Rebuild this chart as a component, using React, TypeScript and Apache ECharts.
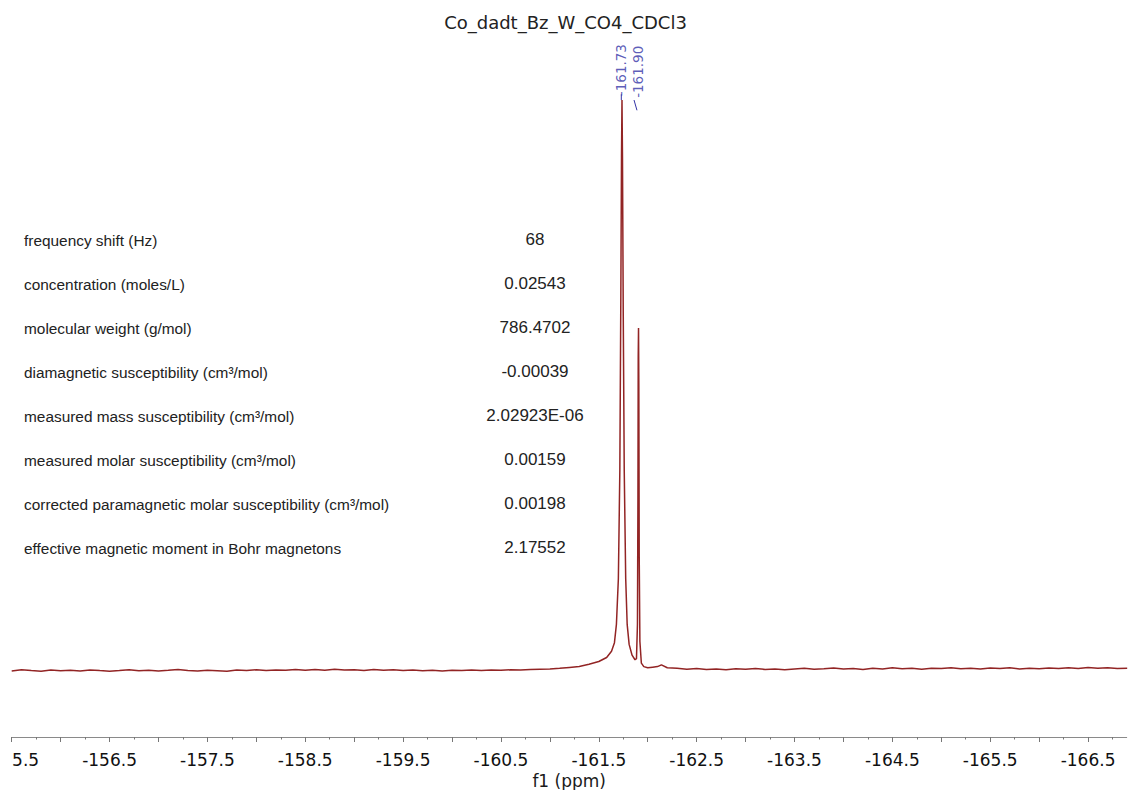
import React, { useEffect, useRef } from "react";
import * as echarts from "echarts";

const chartTitle = "Co_dadt_Bz_W_CO4_CDCl3";
const axisName = "f1 (ppm)";

// ppm range shown (reversed NMR axis)
const ppmLeft = -155.5;
const ppmRight = -166.895;

const majorTicks = [-155.5, -156.0, -156.5, -157.0, -157.5, -158.0, -158.5, -159.0, -159.5, -160.0, -160.5, -161.0, -161.5, -162.0, -162.5, -163.0, -163.5, -164.0, -164.5, -165.0, -165.5, -166.0, -166.5];
const minorTicks = [-155.75, -156.25, -156.75, -157.25, -157.75, -158.25, -158.75, -159.25, -159.75, -160.25, -160.75, -161.25, -161.75, -162.25, -162.75, -163.25, -163.75, -164.25, -164.75, -165.25, -165.75, -166.25, -166.75];
const tickLabels = [-155.5, -156.5, -157.5, -158.5, -159.5, -160.5, -161.5, -162.5, -163.5, -164.5, -165.5, -166.5];

// spectrum: [ppm, intensity]
const baselineLeft = [
  [-155.5, -0.15], [-155.6, 0.05], [-155.7, -0.1], [-155.8, -0.2], [-155.9, 0.0],
  [-156.0, -0.12], [-156.1, -0.05], [-156.2, -0.18], [-156.3, 0.02], [-156.4, -0.1],
  [-156.5, -0.2], [-156.6, -0.08], [-156.7, 0.05], [-156.8, -0.12], [-156.9, -0.02],
  [-157.0, -0.15], [-157.1, -0.05], [-157.2, 0.08], [-157.3, -0.1], [-157.4, -0.18],
  [-157.5, -0.05], [-157.6, -0.12], [-157.7, -0.22], [-157.8, 0.0], [-157.9, -0.08],
  [-158.0, 0.05], [-158.1, -0.1], [-158.2, 0.02], [-158.3, -0.05], [-158.4, 0.1],
  [-158.5, -0.02], [-158.6, 0.08], [-158.7, -0.06], [-158.8, 0.12], [-158.9, 0.0],
  [-159.0, 0.05], [-159.1, -0.08], [-159.2, 0.1], [-159.3, -0.02], [-159.4, 0.05],
  [-159.5, -0.1], [-159.6, 0.0], [-159.7, -0.12], [-159.8, -0.02], [-159.9, -0.15],
  [-160.0, -0.05], [-160.1, -0.1], [-160.2, 0.02], [-160.3, -0.08], [-160.4, 0.0],
  [-160.5, -0.05], [-160.6, 0.05], [-160.7, 0.0], [-160.8, 0.1], [-160.9, 0.15],
  [-161.0, 0.2], [-161.1, 0.3], [-161.2, 0.45],
];

const peakRegion = [
  [-161.3, 0.6], [-161.4, 1.0], [-161.5, 1.5], [-161.58, 2.2], [-161.63, 3.3],
  [-161.66, 4.8], [-161.68, 8.0], [-161.7, 16], [-161.715, 35], [-161.725, 65],
  [-161.732, 90], [-161.737, 100], [-161.742, 90], [-161.75, 62], [-161.76, 35],
  [-161.775, 16], [-161.79, 8], [-161.81, 4.5], [-161.84, 2.6], [-161.87, 1.8],
  [-161.885, 2.0], [-161.895, 8], [-161.9, 30], [-161.903, 55], [-161.906, 60],
  [-161.909, 50], [-161.913, 20], [-161.92, 5], [-161.935, 1.2], [-161.96, 0.6],
  [-162.0, 0.4], [-162.05, 0.5], [-162.1, 0.6], [-162.14, 0.9], [-162.2, 0.4],
];

const baselineRight = [
  [-162.3, 0.3], [-162.4, 0.15], [-162.5, 0.25], [-162.6, 0.1], [-162.7, 0.2],
  [-162.8, 0.05], [-162.9, 0.22], [-163.0, 0.12], [-163.1, 0.28], [-163.2, 0.1],
  [-163.3, 0.18], [-163.4, 0.05], [-163.5, 0.2], [-163.6, 0.3], [-163.7, 0.12],
  [-163.8, 0.22], [-163.9, 0.35], [-164.0, 0.18], [-164.1, 0.25], [-164.2, 0.1],
  [-164.3, 0.3], [-164.4, 0.2], [-164.5, 0.38], [-164.6, 0.22], [-164.7, 0.3],
  [-164.8, 0.15], [-164.9, 0.32], [-165.0, 0.25], [-165.1, 0.4], [-165.2, 0.22],
  [-165.3, 0.3], [-165.4, 0.18], [-165.5, 0.35], [-165.6, 0.25], [-165.7, 0.4],
  [-165.8, 0.2], [-165.9, 0.3], [-166.0, 0.22], [-166.1, 0.35], [-166.2, 0.28],
  [-166.3, 0.4], [-166.4, 0.25], [-166.5, 0.45], [-166.6, 0.3], [-166.7, 0.38],
  [-166.8, 0.28], [-166.9, 0.32],
];

const peakPicks = [-161.73, -161.9];
const peakLabelY = [105.6, 105.3];

const tableLabels = [
  "frequency shift (Hz)",
  "concentration (moles/L)",
  "molecular weight (g/mol)",
  "diamagnetic susceptibility (cm³/mol)",
  "measured mass susceptibility (cm³/mol)",
  "measured molar susceptibility (cm³/mol)",
  "corrected paramagnetic molar susceptibility (cm³/mol)",
  "effective magnetic moment in Bohr magnetons",
];
const tableValues = ["68", "0.02543", "786.4702", "-0.00039", "2.02923E-06", "0.00159", "0.00198", "2.17552"];

export default function App() {
  const ref = useRef<HTMLDivElement>(null);

  useEffect(() => {
    if (!ref.current) return;
    const chart = echarts.init(ref.current, null, { renderer: "svg" });
    const spectrum = [...baselineLeft, ...peakRegion, ...baselineRight];
    const rowTop = 240;
    const rowGap = 44.0;

    const graphics: any[] = [];
    tableLabels.forEach((t, i) => {
      graphics.push({
        type: "text",
        x: 24,
        y: rowTop + i * rowGap,
        z: 10,
        style: { text: t, fill: "#222", font: '15.4px "Liberation Sans", Arial, sans-serif', align: "left", verticalAlign: "middle" },
      });
      graphics.push({
        type: "text",
        x: 535,
        y: rowTop - 1 + i * rowGap,
        z: 10,
        style: { text: tableValues[i], fill: "#222", font: '17px "Liberation Sans", Arial, sans-serif', align: "center", verticalAlign: "middle" },
      });
    });
    graphics.push({ type: "rect", shape: { x: 0, y: 742, width: 11.5, height: 30 }, style: { fill: "#fff" }, z: 100 });

    chart.setOption({
      animation: false,
      backgroundColor: "#ffffff",
      title: {
        text: chartTitle,
        left: "center",
        top: 8,
        textStyle: { fontFamily: "DejaVu Sans", fontSize: 18, fontWeight: "normal", color: "#222" },
      },
      grid: { left: 11.7, right: 4.3, top: 42, bottom: 53, containLabel: false, outerBoundsMode: "none" },
      xAxis: [
        {
          type: "value",
          inverse: true,
          min: ppmRight,
          max: ppmLeft,
          name: axisName,
          nameLocation: "middle",
          nameGap: 34,
          nameTextStyle: { fontFamily: "DejaVu Sans", fontSize: 17, color: "#1a1a1a", verticalAlign: "top" },
          axisLine: { show: true, onZero: false, lineStyle: { color: "#8a8a8a", width: 1 } },
          axisTick: { show: true, customValues: majorTicks, length: 5, lineStyle: { color: "#777" } },
          axisLabel: {
            show: true,
            customValues: tickLabels,
            margin: 14,
            fontFamily: "DejaVu Sans",
            fontSize: 17,
            color: "#111",
            formatter: (v: number) => v.toFixed(1),
          },
          splitLine: { show: false },
        },
        {
          type: "value",
          inverse: true,
          min: ppmRight,
          max: ppmLeft,
          position: "bottom",
          axisLine: { show: false, onZero: false },
          axisTick: { show: true, customValues: minorTicks, length: 2.5, lineStyle: { color: "#777" } },
          axisLabel: { show: false },
          splitLine: { show: false },
        },
      ],
      yAxis: {
        type: "value",
        min: -11.75,
        max: 110.18,
        show: false,
        splitLine: { show: false },
      },
      series: [
        {
          type: "line",
          data: spectrum,
          showSymbol: false,
          symbol: "none",
          lineStyle: { color: "#922424", width: 1.5 },
          clip: true,
          z: 3,
        },
        {
          type: "scatter",
          data: peakPicks.map((p, i) => ({ value: [p, peakLabelY[i]], name: p.toFixed(2) })),
          symbolSize: 1,
          itemStyle: { color: "rgba(0,0,0,0)" },
          label: {
            show: true,
            rotate: 90,
            position: "inside",
            offset: [-2, 0],
            formatter: (p: any) => p.name,
            fontFamily: "DejaVu Sans",
            fontSize: 13.5,
            color: "#3333a6",
          },
          clip: false,
          z: 5,
        },
        {
          type: "line",
          data: [[peakPicks[0], 101.0], [peakPicks[0], 100.0]],
          showSymbol: false,
          symbol: "none",
          lineStyle: { color: "#3333a6", width: 1 },
          z: 4,
        },
        {
          type: "line",
          data: [[-161.86, 100.0], [-161.89, 98.2]],
          showSymbol: false,
          symbol: "none",
          lineStyle: { color: "#3333a6", width: 1 },
          z: 4,
        },
      ],
      graphic: graphics,
    });
    return () => chart.dispose();
  }, []);

  return <div ref={ref} style={{ position: "absolute", left: 0, top: 0, width: 1131, height: 790 }} />;
}
